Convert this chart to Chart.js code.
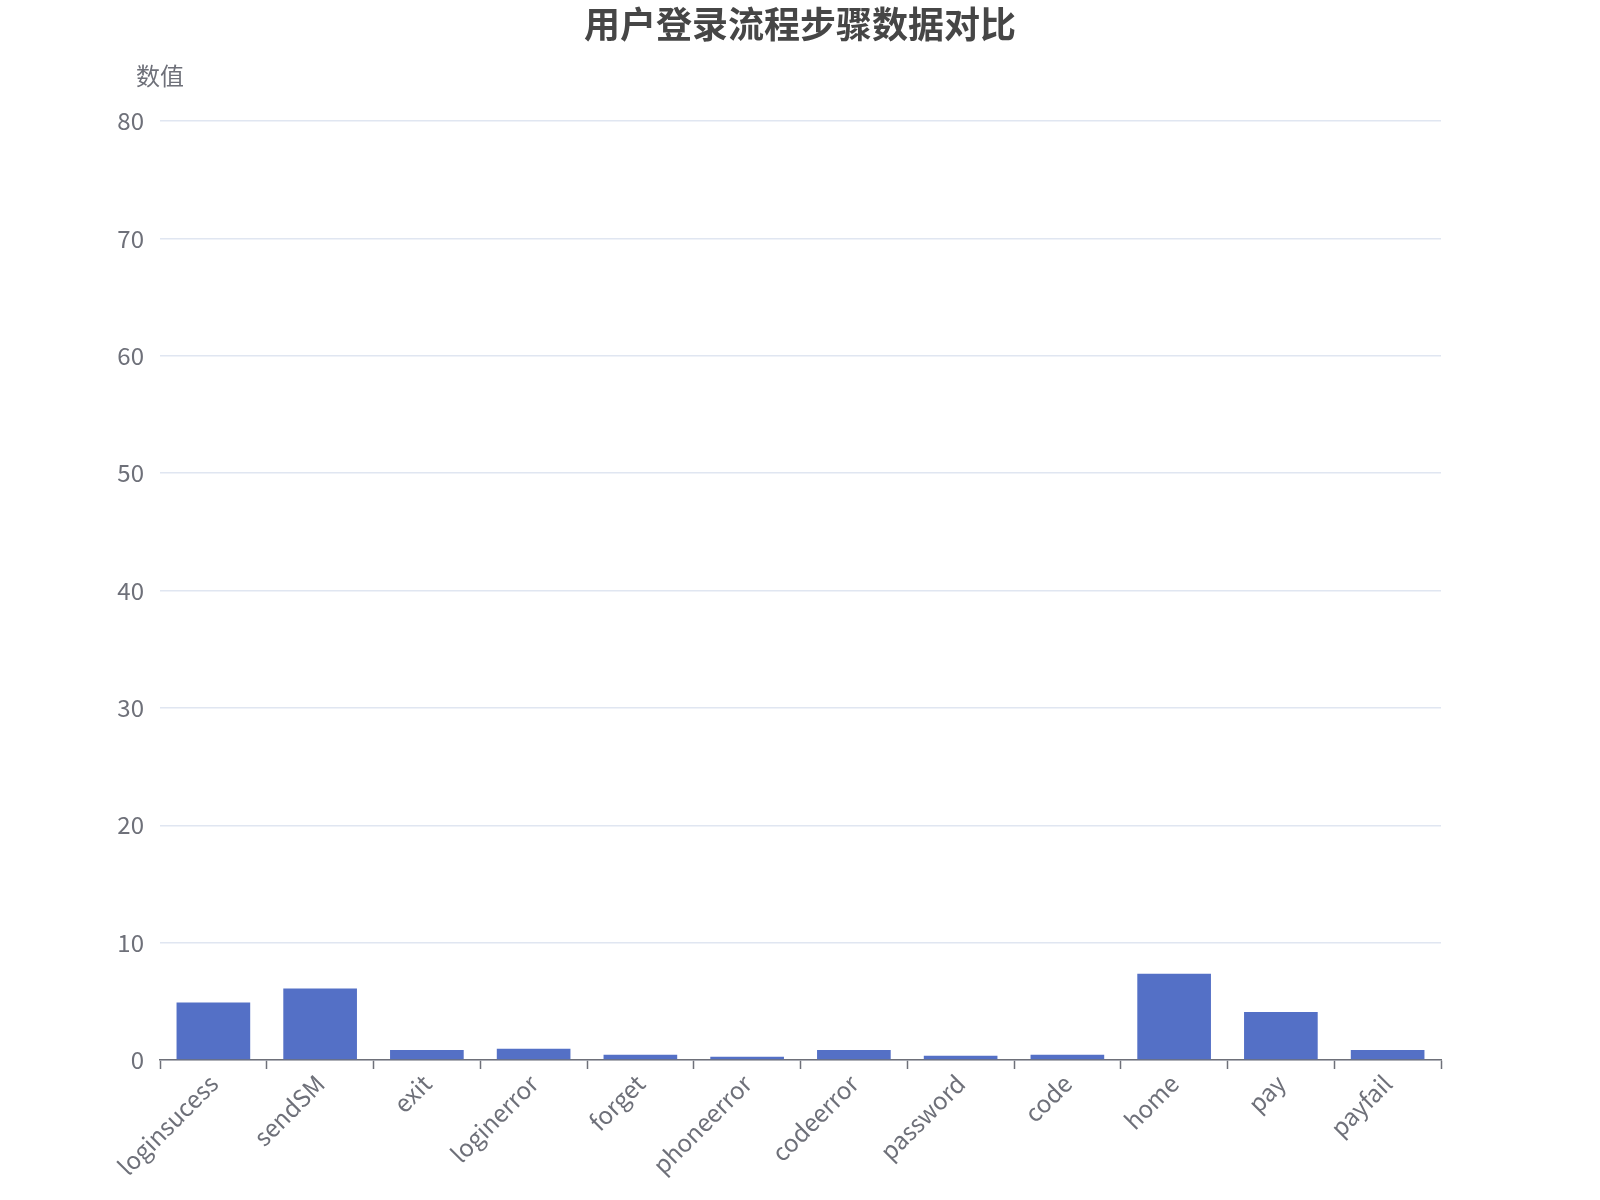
<!DOCTYPE html>
<html>
<head>
<meta charset="utf-8">
<script src="https://cdn.jsdelivr.net/npm/chart.js@4/dist/chart.umd.min.js"></script>
<style>
  html, body { margin:0; padding:0; background:#fff; }
  #wrap { width:1600px; height:1200px; }
</style>
</head>
<body>
<div id="wrap"><canvas id="c" width="1600" height="1200"></canvas></div>
<script>
// === Data ===
const steps  = ['loginsucess','sendSM','exit','loginerror','forget','phoneerror','codeerror','password','code','home','pay','payfail'];
const values = [4.9, 6.1, 0.85, 0.95, 0.45, 0.28, 0.85, 0.37, 0.45, 7.35, 4.1, 0.85];
const titleText = '用户登录流程步骤数据对比';
const yName = '数值';
const yMin = 0, yMax = 80, yStep = 10;

const FONT = "'Noto Sans CJK SC', 'Noto Sans', sans-serif";
const GREY = '#6e7079';

// nama sumbu di atas sumbu Y (gaya ECharts)
const yNamePlugin = {
  id: 'yName',
  afterDraw(chart){
    const { ctx, chartArea } = chart;
    ctx.save();
    ctx.font = `24px ${FONT}`;
    ctx.fillStyle = GREY;
    ctx.textAlign = 'center';
    ctx.textBaseline = 'middle';
    ctx.fillText(yName, chartArea.left, chartArea.top - 45);
    ctx.restore();
  }
};

new Chart(document.getElementById('c'), {
  type: 'bar',
  data: {
    labels: steps,
    datasets: [{
      label: yName,
      data: values,
      backgroundColor: '#5470c6',
      borderWidth: 0,
      categoryPercentage: 0.69,
      barPercentage: 1
    }]
  },
  options: {
    responsive: false,
    animation: false,
    layout: { padding: 0 },
    plugins: {
      legend: { display: false },
      tooltip: { enabled: false },
      title: {
        display: true,
        text: titleText,
        color: '#464646',
        font: { family: FONT, size: 36, weight: 'bold' },
        padding: { top: 3, bottom: 75 }
      }
    },
    scales: {
      x: {
        grid: { drawOnChartArea: false, drawTicks: true, tickLength: 9, tickColor: GREY, tickWidth: 1.5 },
        border: { display: true, color: GREY, width: 1.5 },
        ticks: {
          color: GREY, font: { family: FONT, size: 24 },
          minRotation: 45, maxRotation: 45, padding: 0, autoSkip: false
        },
        afterFit(s){ s.height = 140; }
      },
      y: {
        min: yMin, max: yMax,
        grid: { color: '#e0e6f1', lineWidth: 1.5, drawTicks: false },
        border: { display: false },
        ticks: { stepSize: yStep, color: GREY, font: { family: FONT, size: 24 }, padding: 16 },
        afterFit(s){ s.width = 160; }
      },
      // sumbu kosong di kanan, hanya untuk ruang kosong
      yRight: {
        position: 'right',
        min: yMin, max: yMax,
        grid: { drawOnChartArea: false, drawTicks: false },
        border: { display: false },
        ticks: { display: false },
        afterFit(s){ s.width = 159; }
      }
    }
  },
  plugins: [yNamePlugin]
});
</script>
</body>
</html>
